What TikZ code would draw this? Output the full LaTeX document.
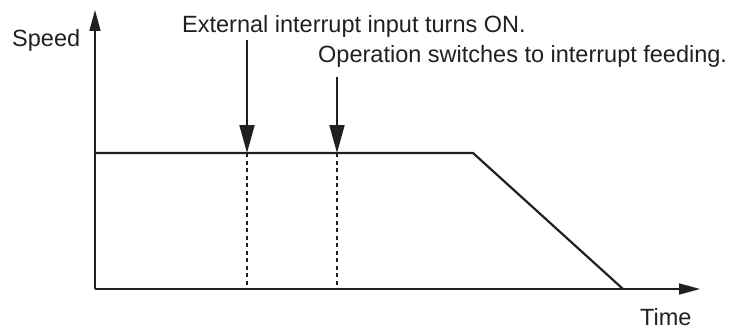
\documentclass[tikz,border=0pt]{standalone}
\usepackage{fontspec}
\setmainfont{Liberation Sans}
\usetikzlibrary{positioning,arrows.meta}
\definecolor{inkgray}{HTML}{231F20}

\begin{document}
\begin{tikzpicture}[x=1pt, y=-1pt, every node/.style={font=\fontsize{23.5}{28}\selectfont, text=inkgray, inner sep=0pt},
    axis/.style={draw=inkgray, line width=1.6pt, -{Triangle[length=21pt, width=11pt]}},
    profile/.style={draw=inkgray, line width=2.2pt, line join=miter},
    marker/.style={draw=inkgray, line width=1.9pt, -{Triangle[length=28pt, width=15pt]}},
    guide/.style={draw=inkgray, line width=2.4pt, dash pattern=on 4pt off 3.5pt}]
      \useasboundingbox (0,0) rectangle (736,329);
      % axes
      \coordinate (orig) at (95,289);
      \coordinate (ytop) at (95,10);
      \coordinate (xend) at (700,289);
      \draw[axis] (orig) -- (ytop);
      \draw[axis] (orig) -- (xend);
      \node[anchor=base west] (speed) at (12,47) {Speed};
      \node[anchor=base west] (time) at (640,325) {Time};
      % speed profile
      \coordinate (run0) at (95,153);
      \coordinate (run1) at (473,153);
      \coordinate (stop) at (623,289);
      \draw[profile] (run0) -- (run1) -- (stop);
      % interrupt markers
      \coordinate (ext) at (247,153);
      \coordinate (extb) at (247,289);
      \coordinate (sw) at (337,153);
      \coordinate (swb) at (337,289);
      \draw[guide] (ext) -- (extb);
      \draw[guide] (sw) -- (swb);
      \node[anchor=base west] (extlbl) at (182,33) {External interrupt input turns ON.};
      \node[anchor=base west] (swlbl) at (318,63) {Operation switches to interrupt feeding.};
      \coordinate (extsrc) at (247,40);
      \coordinate (swsrc) at (337,77);
      \draw[marker] (extsrc) -- (ext);
      \draw[marker] (swsrc) -- (sw);
\end{tikzpicture}
\end{document}
